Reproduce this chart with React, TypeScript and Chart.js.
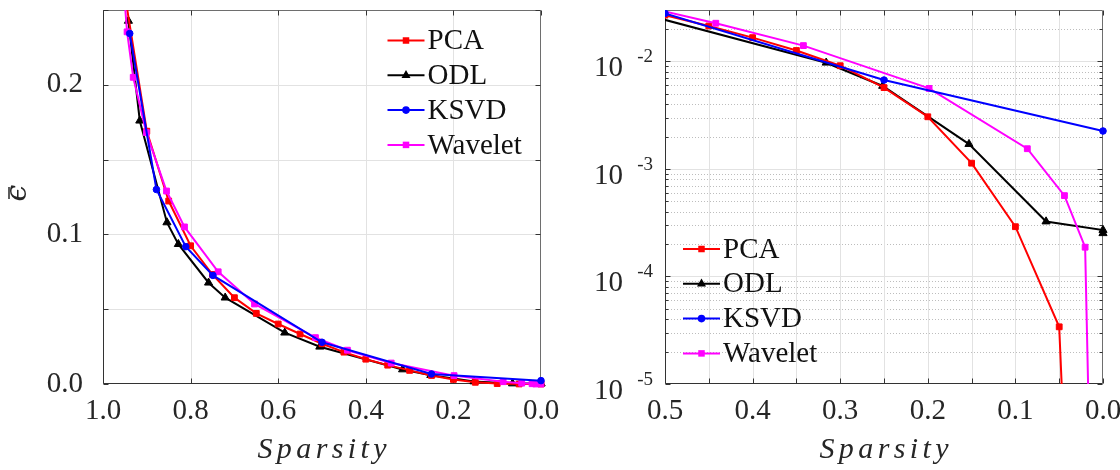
import React, { useEffect, useRef } from 'react';
import { Chart, registerables } from 'chart.js';

Chart.register(...registerables);

// ---------------- data ----------------
const seriesNames = ['PCA', 'ODL', 'KSVD', 'Wavelet'];
const seriesColors = ['#ff0000', '#000000', '#0000ff', '#ff00ff'];
const seriesMarkers = ['rect', 'triangle', 'circle', 'rect'];
const seriesMarkerRadius = [4.6, 5.2, 3.8, 4.6];
const seriesOrder = [3, 4, 1, 2];

const pcaSparsity = [0.95, 0.9, 0.85, 0.8, 0.75, 0.7, 0.65, 0.6, 0.55, 0.5, 0.45, 0.4, 0.35, 0.3, 0.25, 0.2, 0.15, 0.1, 0.05, 0.0];
const pcaError = [0.26, 0.169, 0.1223, 0.0924, 0.0732, 0.0577, 0.0472, 0.0401, 0.0334, 0.0269, 0.0213, 0.0166, 0.0126, 0.0091, 0.0057, 0.00305, 0.00113, 0.00029, 3.4e-5, 1e-14];

const odlSparsity = [0.942, 0.916, 0.854, 0.828, 0.759, 0.721, 0.585, 0.505, 0.316, 0.2515, 0.153, 0.065, 0.0, 0.0];
const odlError = [0.2427, 0.176, 0.108, 0.0935, 0.0677, 0.0577, 0.0343, 0.0249, 0.0097, 0.0059, 0.0017, 0.000324, 0.00027, 0.000252];

const ksvdSparsity = [0.939, 0.878, 0.811, 0.749, 0.5, 0.25, 0.0];
const ksvdError = [0.2343, 0.13, 0.0918, 0.0726, 0.0279, 0.0067, 0.00225];

const waveletSparsity = [0.953, 0.945, 0.931, 0.901, 0.855, 0.814, 0.737, 0.654, 0.515, 0.442, 0.342, 0.1985, 0.0864, 0.044, 0.0204, 0.012, 0.0];
const waveletError = [0.265, 0.2354, 0.205, 0.168, 0.129, 0.105, 0.075, 0.0535, 0.031, 0.0226, 0.014, 0.0056, 0.00154, 0.000564, 0.000187, 1.3e-7, 1e-9];

const seriesSparsity = [pcaSparsity, odlSparsity, ksvdSparsity, waveletSparsity];
const seriesError = [pcaError, odlError, ksvdError, waveletError];

// ticks
const leftXTicks = [1.0, 0.8, 0.6, 0.4, 0.2, 0.0];
const leftXTickLabels = ['1.0', '0.8', '0.6', '0.4', '0.2', '0.0'];
const leftYTicks = [0, 0.05, 0.1, 0.15, 0.2, 0.25];
const leftYTickLabels = ['0.0', '', '0.1', '', '0.2', ''];

const rightXTicks = [0.5, 0.45, 0.4, 0.35, 0.3, 0.25, 0.2, 0.15, 0.1, 0.05, 0.0];
const rightXTickLabels = ['0.5', '', '0.4', '', '0.3', '', '0.2', '', '0.1', '', '0.0'];
const rightYMajor = [1e-5, 1e-4, 1e-3, 1e-2];
const rightYExponents = ['-5', '-4', '-3', '-2'];
const rightYMinor = [
  2e-5, 3e-5, 4e-5, 5e-5, 6e-5, 7e-5, 8e-5, 9e-5,
  2e-4, 3e-4, 4e-4, 5e-4, 6e-4, 7e-4, 8e-4, 9e-4,
  2e-3, 3e-3, 4e-3, 5e-3, 6e-3, 7e-3, 8e-3, 9e-3,
  2e-2,
];

const xTitle = 'Sparsity';
const yTitle = 'ϵ';

// ---------------- styling ----------------
const FONT = '"Liberation Serif", "Times New Roman", serif';
const TEXT = '#262626';

type Decor = {
  xTicks: number[];
  yMajor: number[];
  yMinor?: number[];
  logExps?: string[];
  showYTitle?: boolean;
  legend: { x: number; y: number; dy: number };
};

function drawMarker(ctx: CanvasRenderingContext2D, style: string, cx: number, cy: number, r: number) {
  ctx.beginPath();
  if (style === 'rect') {
    const h = r * Math.SQRT1_2;
    ctx.rect(cx - h, cy - h, 2 * h, 2 * h);
  } else if (style === 'triangle') {
    ctx.moveTo(cx, cy - r);
    ctx.lineTo(cx + 0.866 * r, cy + 0.5 * r);
    ctx.lineTo(cx - 0.866 * r, cy + 0.5 * r);
    ctx.closePath();
  } else {
    ctx.arc(cx, cy, r, 0, Math.PI * 2);
  }
  ctx.fill();
}

function makeDecor(d: Decor) {
  return {
    id: 'decor',
    beforeDatasetsDraw(chart: any) {
      const { ctx, chartArea: a } = chart;
      const xs = chart.scales.x;
      const ys = chart.scales.y;
      ctx.save();
      ctx.beginPath();
      ctx.rect(a.left, a.top, a.right - a.left, a.bottom - a.top);
      ctx.clip();
      ctx.lineWidth = 1;
      if (d.yMinor) {
        ctx.strokeStyle = '#bdbdbd';
        ctx.setLineDash([1, 2]);
        for (const v of d.yMinor) {
          const p = Math.round(ys.getPixelForValue(v)) + 0.5;
          ctx.beginPath();
          ctx.moveTo(a.left, p);
          ctx.lineTo(a.right, p);
          ctx.stroke();
        }
        ctx.setLineDash([]);
      }
      ctx.strokeStyle = '#e2e2e2';
      for (const v of d.xTicks) {
        const p = Math.round(xs.getPixelForValue(v)) + 0.5;
        ctx.beginPath();
        ctx.moveTo(p, a.top);
        ctx.lineTo(p, a.bottom);
        ctx.stroke();
      }
      for (const v of d.yMajor) {
        const p = Math.round(ys.getPixelForValue(v)) + 0.5;
        ctx.beginPath();
        ctx.moveTo(a.left, p);
        ctx.lineTo(a.right, p);
        ctx.stroke();
      }
      ctx.restore();

      // box
      ctx.save();
      ctx.lineWidth = 1;
      const L = Math.round(a.left) + 0.5;
      const R = Math.round(a.right) - 0.5;
      const T = Math.round(a.top) + 0.5;
      const B = Math.round(a.bottom) - 0.5;
      ctx.strokeStyle = '#6e6e6e';
      ctx.beginPath();
      ctx.moveTo(L, T);
      ctx.lineTo(R, T);
      ctx.lineTo(R, B);
      ctx.stroke();
      ctx.strokeStyle = '#333333';
      ctx.beginPath();
      ctx.moveTo(L, T);
      ctx.lineTo(L, B);
      ctx.lineTo(R, B);
      ctx.stroke();
      // ticks inside
      for (const v of d.xTicks) {
        const p = Math.round(xs.getPixelForValue(v)) + 0.5;
        ctx.beginPath();
        ctx.moveTo(p, B);
        ctx.lineTo(p, B - 5);
        ctx.moveTo(p, T);
        ctx.lineTo(p, T + 5);
        ctx.stroke();
      }
      const yTick = (v: number, len: number) => {
        const p = Math.round(ys.getPixelForValue(v)) + 0.5;
        ctx.beginPath();
        ctx.moveTo(L, p);
        ctx.lineTo(L + len, p);
        ctx.moveTo(R, p);
        ctx.lineTo(R - len, p);
        ctx.stroke();
      };
      for (const v of d.yMajor) yTick(v, 5);
      if (d.yMinor) for (const v of d.yMinor) yTick(v, 3);
      ctx.restore();
    },
    afterDraw(chart: any) {
      const { ctx, chartArea: a } = chart;
      const ys = chart.scales.y;
      ctx.save();
      // log tick labels (10 with raised exponent)
      if (d.logExps) {
        ctx.fillStyle = TEXT;
        ctx.textAlign = 'right';
        ctx.textBaseline = 'alphabetic';
        d.yMajor.forEach((v, i) => {
          const p = ys.getPixelForValue(v);
          ctx.font = `29px ${FONT}`;
          ctx.fillText('10', a.left - 42, p + 15);
          ctx.font = `19px ${FONT}`;
          ctx.fillText(d.logExps![i], a.left - 12, p + 1);
        });
      }
      // x title
      ctx.fillStyle = TEXT;
      ctx.font = `italic 30px ${FONT}`;
      (ctx as any).letterSpacing = '4.4px';
      ctx.textAlign = 'left';
      ctx.textBaseline = 'alphabetic';
      const w = ctx.measureText(xTitle).width - 4.4;
      ctx.fillText(xTitle, (a.left + a.right) / 2 - w / 2, 458);
      (ctx as any).letterSpacing = '0px';
      // y title
      if (d.showYTitle) {
        ctx.save();
        ctx.translate(20, 193);
        ctx.rotate(-Math.PI / 2);
        ctx.font = `italic 30px "DejaVu Serif", ${FONT}`;
        ctx.textAlign = 'center';
        ctx.textBaseline = 'alphabetic';
        ctx.fillText(yTitle, 0, 6);
        ctx.strokeStyle = TEXT;
        ctx.lineWidth = 1.5;
        ctx.beginPath();
        ctx.moveTo(-6, -11);
        ctx.lineTo(6, -11);
        ctx.stroke();
        ctx.restore();
      }
      // legend
      const lg = d.legend;
      seriesNames.forEach((name, i) => {
        const y = lg.y + i * lg.dy;
        ctx.strokeStyle = seriesColors[i];
        ctx.fillStyle = seriesColors[i];
        ctx.lineWidth = 2;
        ctx.beginPath();
        ctx.moveTo(lg.x, y);
        ctx.lineTo(lg.x + 37, y);
        ctx.stroke();
        drawMarker(ctx, seriesMarkers[i], lg.x + 18.5, y, seriesMarkerRadius[i]);
        ctx.fillStyle = '#111111';
        ctx.font = `29px ${FONT}`;
        ctx.textAlign = 'left';
        ctx.textBaseline = 'middle';
        ctx.fillText(name, lg.x + 40, y + 1);
      });
      ctx.restore();
    },
  };
}

function buildDatasets(clip: any) {
  return seriesNames.map((name, i) => ({
    label: name,
    data: seriesSparsity[i].map((s, j) => ({ x: s, y: seriesError[i][j] })),
    borderColor: seriesColors[i],
    backgroundColor: seriesColors[i],
    pointBackgroundColor: seriesColors[i],
    pointBorderColor: seriesColors[i],
    pointBorderWidth: 1,
    pointStyle: seriesMarkers[i],
    pointRadius: seriesMarkerRadius[i] - 0.5,
    borderWidth: 2,
    tension: 0,
    clip,
    order: seriesOrder[i],
  }));
}

const tickFont = { family: FONT, size: 29 };

function leftConfig(): any {
  return {
    type: 'line',
    data: { datasets: buildDatasets({ left: 0, top: 0, right: 8, bottom: 8 }) },
    options: {
      animation: false,
      responsive: false,
      devicePixelRatio: 1,
      layout: { padding: { left: 0, top: 10, right: 19, bottom: 0 } },
      plugins: { legend: { display: false }, tooltip: { enabled: false }, title: { display: false } },
      scales: {
        x: {
          type: 'linear',
          min: 0,
          max: 1,
          reverse: true,
          afterBuildTicks: (s: any) => { s.ticks = leftXTicks.map((v) => ({ value: v })); },
          ticks: {
            autoSkip: false, maxRotation: 0, padding: 10, color: TEXT, font: tickFont,
            callback: (_v: any, i: number) => leftXTickLabels[i],
          },
          grid: { display: false, drawTicks: false },
          border: { display: false },
          afterFit: (s: any) => { s.height = 86; s.paddingLeft = 0; s.paddingRight = 0; },
        },
        y: {
          type: 'linear',
          min: 0,
          max: 0.25,
          afterBuildTicks: (s: any) => { s.ticks = leftYTicks.map((v) => ({ value: v })); },
          ticks: {
            autoSkip: false, padding: 20, color: TEXT, font: tickFont,
            callback: (_v: any, i: number) => leftYTickLabels[i],
          },
          grid: { display: false, drawTicks: false },
          border: { display: false },
          afterFit: (s: any) => { s.width = 103; s.paddingTop = 0; s.paddingBottom = 0; },
        },
      },
    },
    plugins: [makeDecor({ xTicks: leftXTicks, yMajor: leftYTicks, showYTitle: true, legend: { x: 387.5, y: 40.5, dy: 34.8 } })],
  };
}

function rightConfig(): any {
  return {
    type: 'line',
    data: { datasets: buildDatasets({ left: 0, top: 0, right: 8, bottom: 0 }) },
    options: {
      animation: false,
      responsive: false,
      devicePixelRatio: 1,
      layout: { padding: { left: 0, top: 10, right: 17, bottom: 0 } },
      plugins: { legend: { display: false }, tooltip: { enabled: false }, title: { display: false } },
      scales: {
        x: {
          type: 'linear',
          min: 0,
          max: 0.5,
          reverse: true,
          afterBuildTicks: (s: any) => { s.ticks = rightXTicks.map((v) => ({ value: v })); },
          ticks: {
            autoSkip: false, maxRotation: 0, padding: 10, color: TEXT, font: tickFont,
            callback: (_v: any, i: number) => rightXTickLabels[i],
          },
          grid: { display: false, drawTicks: false },
          border: { display: false },
          afterFit: (s: any) => { s.height = 86; s.paddingLeft = 0; s.paddingRight = 0; },
        },
        y: {
          type: 'logarithmic',
          min: 1e-5,
          max: 0.03,
          afterBuildTicks: (s: any) => {
            s.ticks = [...rightYMajor, ...rightYMinor].sort((a, b) => a - b).map((v) => ({ value: v }));
          },
          ticks: { display: false },
          grid: { display: false, drawTicks: false },
          border: { display: false },
          afterFit: (s: any) => { s.width = 105; s.paddingTop = 0; s.paddingBottom = 0; },
        },
      },
    },
    plugins: [makeDecor({ xTicks: rightXTicks, yMajor: rightYMajor, yMinor: rightYMinor, logExps: rightYExponents, legend: { x: 123, y: 249, dy: 34.8 } })],
  };
}

function ChartCanvas({ build, left }: { build: () => any; left: number }) {
  const ref = useRef<HTMLCanvasElement>(null);
  useEffect(() => {
    const chart = new Chart(ref.current as HTMLCanvasElement, build());
    return () => chart.destroy();
  }, []);
  return (
    <canvas
      ref={ref}
      width={560}
      height={470}
      style={{ position: 'absolute', left, top: 0, width: 560, height: 470 }}
    />
  );
}

export default function App() {
  return (
    <div style={{ position: 'fixed', left: 0, top: 0, width: 1120, height: 470, background: '#ffffff' }}>
      <ChartCanvas build={leftConfig} left={0} />
      <ChartCanvas build={rightConfig} left={560} />
    </div>
  );
}
